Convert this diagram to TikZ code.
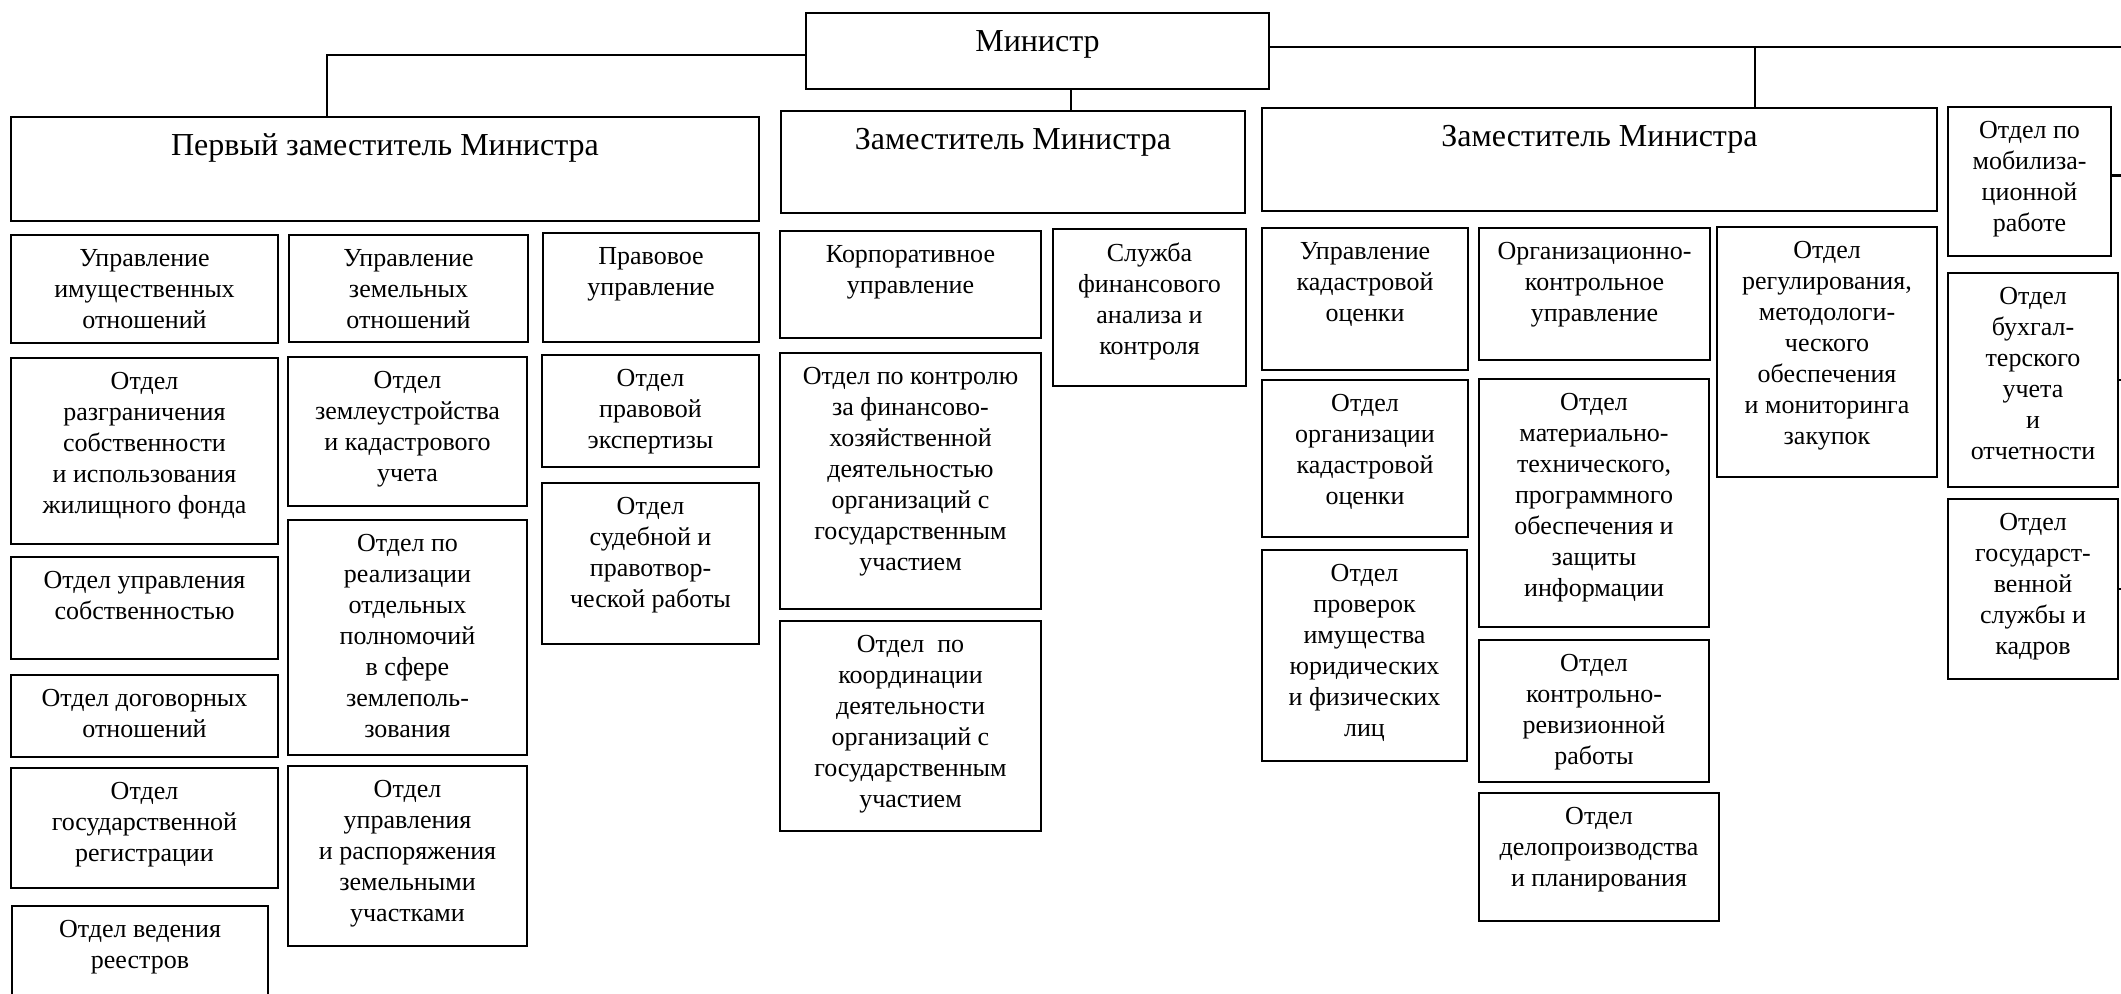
\documentclass[tikz,border=0pt]{standalone}
\usepackage{fontspec}
\setmainfont{Liberation Serif}
\tikzset{
  box/.style={draw, line width=1.3pt, rectangle, inner sep=0pt},
  txt/.style={anchor=north, inner sep=0pt, align=center, font=\fontsize{13}{15.5}\selectfont, yshift=-7.5pt},
  hdr/.style={anchor=base, inner sep=0pt, font=\fontsize{16}{19}\selectfont, yshift=-20pt},
  conn/.style={line width=1.3pt},
}
\newcommand\bx[6]{%
  \node[box, minimum width={(#4-#2)*0.5pt}, minimum height={(#5-#3)*0.5pt}] (#1) at ({(#2+#4)/2},{(#3+#5)/2}) {};
  \node[txt] (#1-t) at (#1.north) {#6};
}
\newcommand\hx[6]{%
  \node[box, minimum width={(#4-#2)*0.5pt}, minimum height={(#5-#3)*0.5pt}] (#1) at ({(#2+#4)/2},{(#3+#5)/2}) {};
  \node[hdr] (#1-t) at (#1.north) {#6};
}
\begin{document}
\begin{tikzpicture}[x=0.5pt,y=-0.5pt]
\useasboundingbox (0,0) rectangle (2121,993);
\clip (0,0) rectangle (2121,993);
% top level
\hx{min}{806}{13}{1269}{89}{Министр}
\hx{p1}{11}{117}{759}{221}{Первый заместитель Министра}
\hx{z2}{781}{111}{1245}{213}{Заместитель Министра}
\hx{z3}{1262}{108}{1937}{211}{Заместитель Министра}
% column 1
\bx{a1}{11}{235}{278}{343}{Управление\\имущественных\\отношений}
\bx{a2}{11}{358}{278}{544}{Отдел\\разграничения\\собственности\\и использования\\жилищного фонда}
\bx{a3}{11}{557}{278}{659}{Отдел управления\\собственностью}
\bx{a4}{11}{675}{278}{757}{Отдел договорных\\отношений}
\bx{a5}{11}{768}{278}{888}{Отдел\\государственной\\регистрации}
\bx{a6}{12}{906}{268}{1010}{Отдел ведения\\реестров}
% column 2
\bx{b1}{289}{235}{528}{342}{Управление\\земельных\\отношений}
\bx{b2}{288}{357}{527}{506}{Отдел\\землеустройства\\и кадастрового\\учета}
\bx{b3}{288}{520}{527}{755}{Отдел по\\реализации\\отдельных\\полномочий\\в сфере\\землеполь-\\зования}
\bx{b4}{288}{766}{527}{946}{Отдел\\управления\\и распоряжения\\земельными\\участками}
% column 3
\bx{c1}{543}{233}{759}{342}{Правовое\\управление}
\bx{c2}{542}{355}{759}{467}{Отдел\\правовой\\экспертизы}
\bx{c3}{542}{483}{759}{644}{Отдел\\судебной и\\правотвор-\\ческой работы}
% column 4
\bx{d1}{780}{231}{1041}{338}{Корпоративное\\управление}
\bx{d2}{780}{353}{1041}{609}{Отдел по контролю\\за финансово-\\хозяйственной\\деятельностью\\организаций с\\государственным\\участием}
\bx{d3}{780}{621}{1041}{831}{Отдел \ по\\координации\\деятельности\\организаций с\\государственным\\участием}
% column 5
\bx{e1}{1053}{229}{1246}{386}{Служба\\финансового\\анализа и\\контроля}
% column 6
\bx{f1}{1262}{228}{1468}{370}{Управление\\кадастровой\\оценки}
\bx{f2}{1262}{380}{1468}{537}{Отдел\\организации\\кадастровой\\оценки}
\bx{f3}{1262}{550}{1467}{761}{Отдел\\проверок\\имущества\\юридических\\и физических\\лиц}
% column 7
\bx{g1}{1479}{228}{1710}{360}{Организационно-\\контрольное\\управление}
\bx{g2}{1479}{379}{1709}{627}{Отдел\\материально-\\технического,\\программного\\обеспечения и\\защиты\\информации}
\bx{g3}{1479}{640}{1709}{782}{Отдел\\контрольно-\\ревизионной\\работы}
\bx{g4}{1479}{793}{1719}{921}{Отдел\\делопроизводства\\и планирования}
% column 8
\bx{h1}{1717}{227}{1937}{477}{Отдел\\регулирования,\\методологи-\\ческого\\обеспечения\\и мониторинга\\закупок}
% column 9
\bx{k1}{1948}{107}{2111}{256}{Отдел по\\мобилиза-\\ционной\\работе}
\bx{k2}{1948}{273}{2118}{487}{Отдел\\бухгал-\\терского\\учета\\и\\отчетности}
\bx{k3}{1948}{499}{2118}{679}{Отдел\\государст-\\венной\\службы и\\кадров}
% connectors
\coordinate (x1) at (327,0);
\coordinate (x2) at (1071,0);
\coordinate (x3) at (1755,0);
\coordinate (xr) at (2121,0);
\coordinate (mw) at ([yshift=-2pt]min.west);
\coordinate (me) at ([yshift=2pt]min.east);
\coordinate (k1e) at ([yshift=3pt]k1.east);
\draw[conn] (mw) -| (x1 |- p1.north);
\draw[conn] (x2 |- min.south) -- (x2 |- z2.north);
\draw[conn] (me) -- (xr |- me);
\draw[conn] (x3 |- me) -- (x3 |- z3.north);
\draw[conn] (k1e) -- (xr |- k1e);
\draw[conn] (k2.east) -- (xr |- k2.east);
\draw[conn] (k3.east) -- (xr |- k3.east);
\end{tikzpicture}
\end{document}
